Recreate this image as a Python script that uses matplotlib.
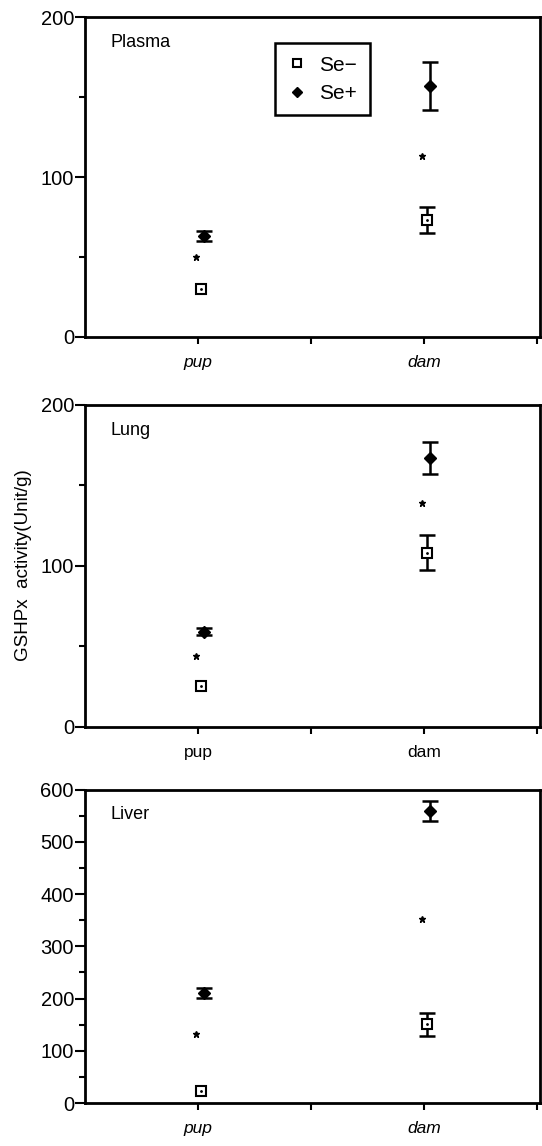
import numpy as np
import matplotlib
matplotlib.use("Agg")
import matplotlib.pyplot as plt

plt.rcParams['font.family'] = ['Liberation Sans', 'DejaVu Sans']

# data (mean, error half-width)
groups = ["pup", "dam"]
group_x = [1, 3]
panels = ["Plasma", "Lung", "Liver"]

se_minus = {"Plasma": [30, 73], "Lung": [25, 108], "Liver": [23, 151]}
se_minus_err = {"Plasma": [0, 8], "Lung": [0, 11], "Liver": [0, 22]}
se_plus = {"Plasma": [63, 157], "Lung": [59, 167], "Liver": [211, 559]}
se_plus_err = {"Plasma": [3, 15], "Lung": [2, 10], "Liver": [10, 20]}
star_y = {"Plasma": [50, 113], "Lung": [44, 139], "Liver": [132, 353]}

y_max = {"Plasma": 200, "Lung": 200, "Liver": 600}
y_major = {"Plasma": [0, 100, 200], "Lung": [0, 100, 200],
           "Liver": [0, 100, 200, 300, 400, 500, 600]}
italic_labels = {"Plasma": True, "Lung": False, "Liver": True}

fig = plt.figure(figsize=(5.42, 11.46), dpi=100)
boxes = {"Plasma": [0.157, 0.706, 0.840, 0.279],
         "Lung": [0.157, 0.366, 0.840, 0.281],
         "Liver": [0.157, 0.0375, 0.840, 0.2735]}


def draw_err(ax, xs, ys, errs):
    # only draw bars that are visible in the source
    for x, y, e in zip(xs, ys, errs):
        if e > 0:
            ax.errorbar([x], [y], yerr=[e], fmt='none', ecolor='black',
                        elinewidth=1.8, capsize=6, capthick=1.8)


for name in panels:
    ax = fig.add_axes(boxes[name])
    xm = np.array(group_x) + 0.03
    xp = np.array(group_x) + 0.05
    xs = np.array(group_x) - 0.02
    draw_err(ax, xm, se_minus[name], se_minus_err[name])
    draw_err(ax, xp, se_plus[name], se_plus_err[name])
    l1, = ax.plot(xm, se_minus[name], 's', ms=6.5, mfc='white', mec='black',
                  mew=1.5, linestyle='none', label='Se\u2212')
    ax.plot(xm, se_minus[name], '.', ms=2, color='black')
    l2, = ax.plot(xp, se_plus[name], 'D', ms=6.5, color='black',
                  linestyle='none', label='Se+')
    ax.plot(xs, star_y[name], '*', ms=5, color='black', linestyle='none')

    ax.set_xlim(0, 4.03)
    ax.set_ylim(0, y_max[name])
    ax.set_xticks([1, 2, 3, 4])
    ax.set_xticklabels([groups[0], '', groups[1], ''],
                       fontsize=12.5, style='italic' if italic_labels[name] else 'normal')
    ax.set_yticks(y_major[name])
    ax.set_yticks([t + (y_major[name][1] - y_major[name][0]) / 2 for t in y_major[name][:-1]],
                  minor=True)
    ax.tick_params(axis='y', which='major', direction='out', length=7, width=1.5,
                   labelsize=14.5, pad=1)
    ax.tick_params(axis='y', which='minor', direction='out', length=4, width=1.5)
    ax.tick_params(axis='x', direction='out', length=5, width=1.5, pad=8)
    for s in ax.spines.values():
        s.set_linewidth(2)
    ax.text(0.055, 0.92, name, transform=ax.transAxes, fontsize=13,
            ha='left', va='center')

    if name == "Plasma":
        ax.legend(handles=[l1, l2], loc='upper left', bbox_to_anchor=(0.418, 0.919),
                  borderaxespad=0, fancybox=False, edgecolor='black', framealpha=1,
                  fontsize=15, handlelength=0.9, handletextpad=0.6,
                  borderpad=0.6, labelspacing=0.45, markerscale=0.8)
        leg = ax.get_legend()
        leg.get_frame().set_linewidth(1.8)
    if name == "Lung":
        ax.set_ylabel("GSHPx  activity(Unit/g)", fontsize=13.5, labelpad=6)

fig.savefig("out.png", dpi=100)
